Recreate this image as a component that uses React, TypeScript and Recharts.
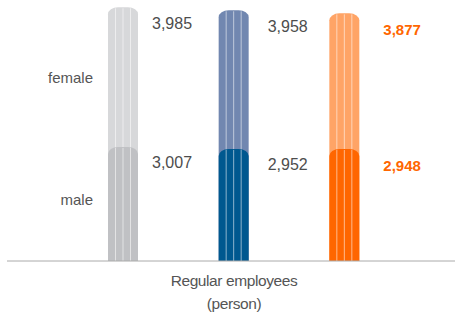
import React from "react";
import { BarChart, Bar, XAxis, YAxis, Label } from "recharts";

const categories = ["Group A", "Group B", "Group C"];
const maleValues = [3007, 2952, 2948];
const femaleValues = [3985, 3958, 3877];
const rowLabels = ["male", "female"];
const rowLabelTicks = [1700, 5070];
const femaleColors = ["#d7d8da", "#7187b0", "#ffa466"];
const maleColors = ["#c0c1c4", "#00588f", "#ff6600"];
const labelColors = ["#4d4d4d", "#4d4d4d", "#ff6600"];
const labelWeights = [400, 400, 700];
const axisTitle = ["Regular employees", "(person)"];

const data = categories.map((c, i) => ({
  name: c,
  male: maleValues[i],
  female: femaleValues[i],
  total: maleValues[i] + femaleValues[i],
}));

const FONT = '"Liberation Sans", Arial, Helvetica, sans-serif';

function capPath(x: number, top: number, w: number, bottom: number) {
  const rx = 10;
  const ry = 7;
  return `M${x},${bottom} L${x},${top + ry} A${rx},${ry} 0 0 1 ${x + rx},${top} L${x + w - rx},${top} A${rx},${ry} 0 0 1 ${x + w},${top + ry} L${x + w},${bottom} Z`;
}

function Stripes({ x, top, w, bottom }: any) {
  return (
    <g>
      {[1, 2, 3].map((k) => (
        <line
          key={k}
          x1={x + (w * k) / 4}
          x2={x + (w * k) / 4}
          y1={top + 1}
          y2={bottom}
          stroke="#ffffff"
          strokeOpacity={0.55}
          strokeWidth={1}
        />
      ))}
    </g>
  );
}

function makeShape(kind: "female" | "male") {
  return (props: any) => {
    const { x, y, width, height, index, payload } = props;
    const bottom = y + height;
    const top = kind === "male" ? y - 5 : y;
    const fill = kind === "male" ? maleColors[index] : femaleColors[index];
    const value = kind === "male" ? payload.male : payload.female;
    const ly = kind === "male" ? y + 11 : y + 16;
    return (
      <g>
        <path d={capPath(x, top, width, bottom)} fill={fill} />
        <Stripes x={x} top={top} w={width} bottom={bottom} />
        <text
          x={x + width + 14 + index * 5}
          y={ly}
          dominantBaseline="central"
          fill={labelColors[index]}
          fontWeight={labelWeights[index]}
          fontSize={labelWeights[index] > 500 ? 15 : 16}
          fontFamily={FONT}
        >
          {value.toLocaleString("en-US")}
        </text>
      </g>
    );
  };
}

const RowTick = (props: any) => {
  const { y, payload } = props;
  const idx = rowLabelTicks.indexOf(payload.value);
  return (
    <text
      x={93}
      y={y}
      textAnchor="end"
      dominantBaseline="central"
      fill="#555555"
      fontSize={15}
      fontFamily={FONT}
    >
      {rowLabels[idx]}
    </text>
  );
};

const AxisTitle = (props: any) => {
  const { viewBox } = props;
  const cx = viewBox.x + viewBox.width / 2 + 3;
  return (
    <text
      x={cx}
      textAnchor="middle"
      fill="#555555"
      fontSize={15.5}
      letterSpacing={-0.4}
      fontFamily={FONT}
    >
      <tspan x={cx} y={viewBox.y + 25}>{axisTitle[0]}</tspan>
      <tspan x={cx} y={viewBox.y + 48}>{axisTitle[1]}</tspan>
    </text>
  );
};

export default function App() {
  return (
    <div style={{ position: "absolute", left: 0, top: 0, background: "#fff" }}>
      <BarChart
        width={455}
        height={320}
        data={data}
        margin={{ top: 7, right: 0, left: 6, bottom: 0 }}
        barGap={-30}
      >
        <XAxis
          dataKey="name"
          height={59}
          axisLine={{ stroke: "#aaaaaa", strokeWidth: 1 }}
          tickLine={false}
          tick={false}
          padding={{ left: 61, right: 55 }}
        >
          <Label content={<AxisTitle />} />
        </XAxis>
        <YAxis
          type="number"
          domain={[0, 7000]}
          width={1}
          axisLine={false}
          tickLine={false}
          ticks={rowLabelTicks}
          tick={<RowTick />}
          interval={0}
        />
        <Bar dataKey="total" barSize={30} shape={makeShape("female")} isAnimationActive={false} />
        <Bar dataKey="male" barSize={30} shape={makeShape("male")} isAnimationActive={false} />
      </BarChart>
    </div>
  );
}
